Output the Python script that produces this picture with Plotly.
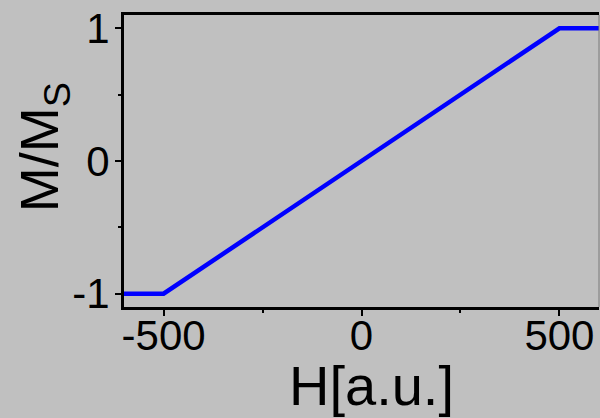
import plotly.graph_objects as go

field = [-600, -500, 500, 600]
magnetization = [-1, -1, 1, 1]
x_ticks = [-500, 0, 500]
x_ticklabels = ["-500", "0", "500"]
y_ticks = [-1, 0, 1]
y_ticklabels = ["-1", "0", "1"]

BG = "#c0c0c0"
FONT = "Liberation Sans, Arial, sans-serif"

fig = go.Figure()
fig.add_trace(go.Scatter(x=field, y=magnetization, mode="lines",
                         line=dict(color="#0000ff", width=4.5), showlegend=False))

fig.update_layout(
    width=600, height=418,
    margin=dict(l=124, r=1, t=15, b=111),
    paper_bgcolor=BG, plot_bgcolor=BG,
    font=dict(family=FONT, color="black"),
)
fig.update_xaxes(
    range=[-600, 600], showgrid=False, zeroline=False,
    showline=True, linecolor="black", linewidth=3, mirror=True,
    tickmode="array", tickvals=x_ticks, ticktext=x_ticklabels,
    ticks="outside", ticklen=6, tickwidth=2, tickcolor="black",
    ticklabelstandoff=-16,
    tickfont=dict(size=42, family=FONT, color="black"),
    minor=dict(tickvals=[-250, 250], ticks="outside", ticklen=3, tickwidth=2, tickcolor="black"),
)
fig.update_yaxes(
    range=[-1.1, 1.1], showgrid=False, zeroline=False,
    showline=True, linecolor="black", linewidth=3,
    tickmode="array", tickvals=y_ticks, ticktext=y_ticklabels,
    ticks="outside", ticklen=6, tickwidth=2, tickcolor="black",
    ticklabelstandoff=-3,
    tickfont=dict(size=42, family=FONT, color="black"),
    minor=dict(tickvals=[-0.5, 0.5], ticks="outside", ticklen=3, tickwidth=2, tickcolor="black"),
)
fig.add_shape(type="line", xref="paper", yref="paper", x0=1, x1=1, y0=0, y1=1,
              line=dict(color="#7a7a7a", width=1))
fig.add_annotation(text="H[a.u.]", xref="paper", yref="paper",
                   x=0.522, y=-0.27, xanchor="center", yanchor="middle",
                   showarrow=False, font=dict(size=56, family=FONT, color="black"))
fig.add_annotation(text="M/M<sub>S</sub>", xref="paper", yref="paper",
                   x=-0.17, y=0.548, xanchor="center", yanchor="middle", textangle=-90,
                   showarrow=False, font=dict(size=54, family=FONT, color="black"))

fig.write_html("out.html")
